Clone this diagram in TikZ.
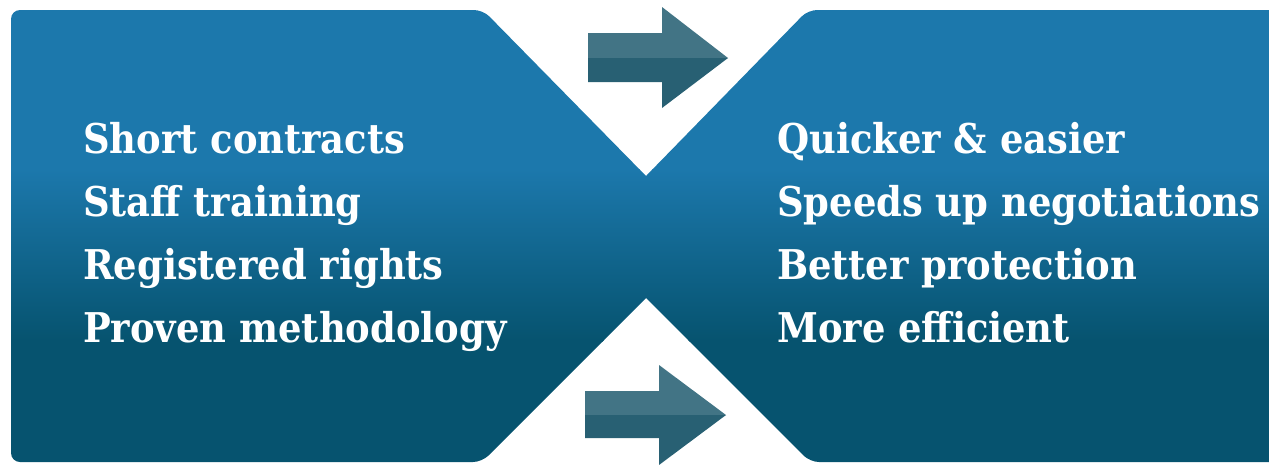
\documentclass[tikz,border=0pt]{standalone}
\usepackage{fontspec}
\newfontfamily\slabfont{DejaVu Serif Condensed}[BoldFont={DejaVu Serif Condensed Bold}]
\definecolor{panelTop}{RGB}{28,120,172}
\definecolor{panelBot}{RGB}{6,83,111}
\definecolor{arrowUp}{RGB}{66,116,133}
\definecolor{arrowLow}{RGB}{40,96,115}
\begin{document}
\begin{tikzpicture}[x=1pt,y=1pt,yscale=-1,xscale=1,
  item/.style={anchor=base west,inner sep=0pt,text=white,font=\slabfont\bfseries\fontsize{41}{41}\selectfont}]
\useasboundingbox (0,0) rectangle (1269,464);
\clip (0,0) rectangle (1269,464);
%Shape: Panel with two notches
\begin{scope}
\clip [rounded corners=9] (11,10) -- (483,10) [sharp corners] -- (646,176) [rounded corners=9] -- (808,10) -- (1290,10) -- (1290,462) -- (810,462) [sharp corners] -- (646,298) [rounded corners=9] -- (482,462) -- (11,462) -- cycle ;
\fill [panelTop] (0,0) rectangle (1290,170) ;
\shade [top color=panelTop, bottom color=panelBot] (0,169) rectangle (1290,341) ;
\fill [panelBot] (0,340) rectangle (1290,464) ;
\end{scope}
%Shape: Upper arrow
\fill [arrowUp] (588,33) -- (662,33) -- (662,7) -- (728,58) -- (588,58) -- cycle ;
\fill [arrowLow] (588,58) -- (728,58) -- (662,108) -- (662,82) -- (588,82) -- cycle ;
%Shape: Lower arrow
\fill [arrowUp] (585,391) -- (659,391) -- (659,365) -- (726,415) -- (585,415) -- cycle ;
\fill [arrowLow] (585,415) -- (726,415) -- (659,465) -- (659,438) -- (585,438) -- cycle ;
% Text Nodes
\node [item] (l1) at (83,153) {Short contracts};
\node [item] (l2) at (83,216) {Staff training};
\node [item] (l3) at (83,279) {Registered rights};
\node [item] (l4) at (83,342) {Proven methodology};
\node [item] (r1) at (777,153) {Quicker \& easier};
\node [item] (r2) at (777,216) {Speeds up negotiations};
\node [item] (r3) at (777,279) {Better protection};
\node [item] (r4) at (777,342) {More efficient};
\end{tikzpicture}
\end{document}
